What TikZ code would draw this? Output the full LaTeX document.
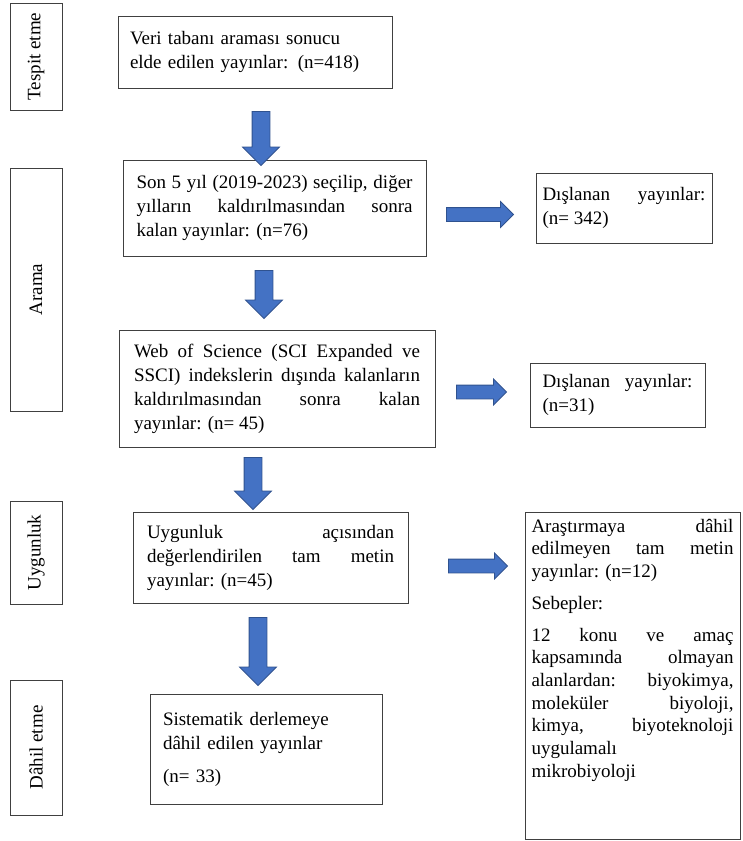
\documentclass[tikz,border=0pt]{standalone}
\usepackage{fontspec}
\setmainfont{Liberation Serif}
\usetikzlibrary{shapes.arrows}

\definecolor{okmavi}{HTML}{4472C4}
\definecolor{okkenar}{HTML}{2F528F}
\tolerance=10000
\hyphenpenalty=10000
\hbadness=10000

\begin{document}
\begin{tikzpicture}[x=1pt,y=-1pt,
    kutu/.style={draw=black!75, line width=1pt, inner ysep=4pt, font=\fontsize{19}{24}\selectfont},
    evre/.style={draw=black!75, line width=1pt, rotate=90, minimum height=52pt, inner sep=0pt, font=\fontsize{19}{24}\selectfont},
    asagiok/.style={single arrow, draw=okkenar, fill=okmavi, line width=0.8pt, rotate=-90, inner xsep=0pt, inner ysep=8.5pt, single arrow head extend=9.5pt},
    sagok/.style={single arrow, draw=okkenar, fill=okmavi, line width=0.8pt, inner xsep=0pt, inner ysep=6.5pt, single arrow head extend=6pt}]
    \useasboundingbox (0,0) rectangle (742,841);

    % evreler
    \node[evre, minimum width=107pt] (tespit) at (36,56.5) {Tespit etme};
    \node[evre, minimum width=243pt] (arama) at (36,289.5) {Arama};
    \node[evre, minimum width=103pt] (uygunluk) at (36,552.5) {Uygunluk};
    \node[evre, minimum width=135pt] (dahil) at (36,747.5) {Dâhil etme};

    % ana sutun
    \node[kutu, align=left, text width=250pt, inner xsep=12pt, minimum height=72pt] (veri) at (255,52) {Veri tabanı araması sonucu\\elde edilen yayınlar: (n=418)};
    \node[kutu, align=justify, text width=276pt, inner xsep=13.5pt, minimum height=96pt] (son) at (274.5,208) {Son 5 yıl (2019-2023) seçilip, diğer\linebreak yılların kaldırılmasından sonra\linebreak kalan yayınlar: (n=76)};
    \node[kutu, align=justify, text width=286pt, inner xsep=15pt, minimum height=117pt] (wos) at (277,388.5) {Web of Science (SCI Expanded ve\linebreak SSCI) indekslerin dışında kalanların\linebreak kaldırılmasından sonra kalan\linebreak yayınlar: (n= 45)};
    \node[kutu, align=justify, text width=247pt, inner xsep=14pt, minimum height=91pt] (uyg) at (270.5,557.5) {Uygunluk açısından\linebreak değerlendirilen tam metin\linebreak yayınlar: (n=45)};
    \node[kutu, align=left, text width=206pt, inner xsep=13pt, minimum height=110pt] (sis) at (266,749) {Sistematik derlemeye\\dâhil edilen yayınlar\\[9pt](n= 33)};

    % dislananlar
    \node[kutu, align=justify, text width=163pt, inner xsep=6.5pt, minimum height=70pt] (dis1) at (624,208) {Dışlanan yayınlar:\linebreak (n= 342)};
    \node[kutu, align=justify, text width=150pt, inner xsep=12.5pt, minimum height=64pt] (dis2) at (617.5,395) {Dışlanan yayınlar:\linebreak (n=31)};
    \node[kutu, align=justify, text width=202pt, inner xsep=6.5pt, minimum height=327pt] (arastirma) at (632.5,675.5) {\parbox[c][313pt][t]{202pt}{\fontsize{19}{22.7}\selectfont\leftskip=0pt\rightskip=0pt\parfillskip=0pt plus 1fil\relax
        Araştırmaya dâhil\linebreak edilmeyen tam metin\linebreak yayınlar: (n=12)\par\vspace{9pt}Sebepler:\par\vspace{9pt}12 konu ve amaç\linebreak kapsamında olmayan\linebreak alanlardan: biyokimya,\linebreak moleküler biyoloji,\linebreak kimya, biyoteknoloji\linebreak uygulamalı\\mikrobiyoloji}};

    % oklar
    \node[asagiok, minimum height=54pt] (ok1) at (261,134) {};
    \node[asagiok, minimum height=48pt] (ok2) at (264,290) {};
    \node[asagiok, minimum height=52pt] (ok3) at (253,479) {};
    \node[asagiok, minimum height=68pt] (ok4) at (258,647) {};
    \node[sagok, minimum height=67pt] (sag1) at (476.5,214.5) {};
    \node[sagok, minimum height=50pt] (sag2) at (478,392) {};
    \node[sagok, minimum height=59pt] (sag3) at (474.5,566) {};

\end{tikzpicture}
\end{document}
